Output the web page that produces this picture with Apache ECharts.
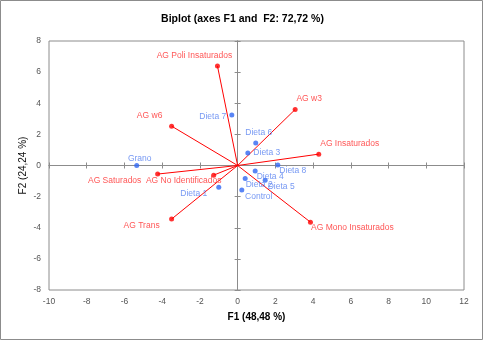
<!DOCTYPE html>
<html>
<head>
<meta charset="utf-8">
<script src="https://cdn.jsdelivr.net/npm/echarts@6/dist/echarts.min.js"></script>
<style>
  html, body { margin: 0; padding: 0; background: #fff; }
  #chart { width: 485px; height: 341px; }
</style>
</head>
<body>
<div id="chart"></div>
<script>
// variables (red vectors)
const varNames = ['AG Poli Insaturados', 'AG w3', 'AG w6', 'AG Insaturados',
  'AG Saturados', 'AG No Identificados', 'AG Trans', 'AG Mono Insaturados']
const varF1 = [-1.07, 3.05, -3.50, 4.30, -4.24, -1.27, -3.50, 3.86]
const varF2 = [6.40, 3.60, 2.53, 0.73, -0.55, -0.62, -3.44, -3.64]

// observations (blue points)
const obsNames = ['Grano', 'Dieta 7', 'Dieta 6', 'Dieta 3', 'Dieta 8',
  'Dieta 4', 'Dieta 2', 'Dieta 5', 'Control', 'Dieta 1']
const obsF1 = [-5.35, -0.31, 0.96, 0.54, 2.13, 0.93, 0.40, 1.46, 0.22, -1.00]
const obsF2 = [0.00, 3.24, 1.44, 0.80, 0.03, -0.36, -0.83, -0.94, -1.58, -1.39]

const xTicks = [-10, 12, 2]
const yTicks = [-8, 8, 2]

// label placement (offset of label centre from the point, px)
const labelOffsets = {
  'AG Poli Insaturados': [-23, -10], 'AG w3': [14, -11], 'AG w6': [-22, -10],
  'AG Insaturados': [31, -10], 'AG Saturados': [-43, 7], 'AG No Identificados': [-30, 6],
  'AG Trans': [-30, 7], 'AG Mono Insaturados': [42, 6],
  'Grano': [3, -7], 'Dieta 7': [-19, 2], 'Dieta 6': [3, -10], 'Dieta 3': [19, 0],
  'Dieta 8': [15, 6], 'Dieta 4': [15, 6], 'Dieta 2': [14, 6], 'Dieta 5': [16, 7],
  'Control': [17, 7], 'Dieta 1': [-25, 7]
}

const RED = '#ff0000'
const BLUE = '#2f66f2'
const FONT = '"Liberation Sans", Arial, sans-serif'

function pointData(names, xs, ys, color) {
  return names.map((n, i) => ({
    name: n,
    value: [xs[i], ys[i]],
    label: {offset: labelOffsets[n] || [0, 0], color: color}
  }))
}

const chart = echarts.init(document.getElementById('chart'))

function valAxis(range, extra) {
  return Object.assign({
    type: 'value', min: range[0], max: range[1], interval: range[2],
    splitLine: {show: false}
  }, extra)
}

const axisLineStyle = {color: '#8c8c8c', width: 1}

const vectorSeries = varNames.map((n, i) => ({
  type: 'line',
  name: n,
  data: [[0, 0], [varF1[i], varF2[i]]],
  symbol: 'none',
  silent: true,
  lineStyle: {color: RED, width: 1},
  z: 3
}))

chart.setOption({
  animation: false,
  textStyle: {fontFamily: FONT},
  title: {
    text: 'Biplot (axes F1 and  F2: 72,72 %)',
    left: 'center', top: 9,
    textStyle: {fontSize: 10.5, fontWeight: 'bold', color: '#000', fontFamily: FONT}
  },
  graphic: [{
    type: 'rect', shape: {x: 0.5, y: 0.5, width: 482, height: 339},
    style: {fill: 'none', stroke: '#8c8c8c', lineWidth: 1}, silent: true
  }],
  grid: {
    left: 49, top: 41, right: 21, bottom: 51,
    show: true, borderColor: '#8c8c8c', borderWidth: 1, backgroundColor: 'transparent'
  },
  xAxis: [
    valAxis(xTicks, {
      position: 'bottom',
      axisLine: {show: false, onZero: false}, axisTick: {show: false},
      axisLabel: {fontSize: 8.5, color: '#555', margin: 7, fontFamily: FONT},
      name: 'F1 (48,48 %)', nameLocation: 'middle', nameGap: 22, nameMoveOverlap: false,
      nameTextStyle: {fontSize: 10, fontWeight: 'bold', color: '#000', fontFamily: FONT}
    }),
    valAxis(xTicks, {
      position: 'bottom',
      axisLine: {show: true, onZero: true, lineStyle: axisLineStyle},
      axisTick: {show: true, length: 3, lineStyle: axisLineStyle},
      axisLabel: {show: false}
    }),
    valAxis(xTicks, {
      position: 'bottom',
      axisLine: {show: true, onZero: true, lineStyle: axisLineStyle},
      axisTick: {show: true, inside: true, length: 3, lineStyle: axisLineStyle},
      axisLabel: {show: false}
    })
  ],
  yAxis: [
    valAxis(yTicks, {
      position: 'left',
      axisLine: {show: false, onZero: false}, axisTick: {show: false},
      axisLabel: {fontSize: 8.5, color: '#555', margin: 8, fontFamily: FONT},
      name: 'F2 (24,24 %)', nameLocation: 'middle', nameGap: 21, nameRotate: 90,
      nameMoveOverlap: false,
      nameTextStyle: {fontSize: 10, color: '#111', fontFamily: FONT}
    }),
    valAxis(yTicks, {
      position: 'left',
      axisLine: {show: true, onZero: true, lineStyle: axisLineStyle},
      axisTick: {show: true, length: 3, lineStyle: axisLineStyle},
      axisLabel: {show: false}
    }),
    valAxis(yTicks, {
      position: 'left',
      axisLine: {show: true, onZero: true, lineStyle: axisLineStyle},
      axisTick: {show: true, inside: true, length: 3, lineStyle: axisLineStyle},
      axisLabel: {show: false}
    })
  ],
  series: vectorSeries.concat([
    {
      type: 'scatter',
      name: 'Variables',
      symbolSize: 5,
      itemStyle: {color: RED},
      label: {show: true, position: 'inside', formatter: '{b}', fontSize: 8.5, fontFamily: FONT},
      data: pointData(varNames, varF1, varF2, '#ff2a2a'),
      z: 4
    },
    {
      type: 'scatter',
      name: 'Observations',
      symbolSize: 5,
      itemStyle: {color: BLUE},
      label: {show: true, position: 'inside', formatter: '{b}', fontSize: 8.5, fontFamily: FONT},
      data: pointData(obsNames, obsF1, obsF2, '#5580f0'),
      z: 4
    }
  ])
})
</script>
</body>
</html>
